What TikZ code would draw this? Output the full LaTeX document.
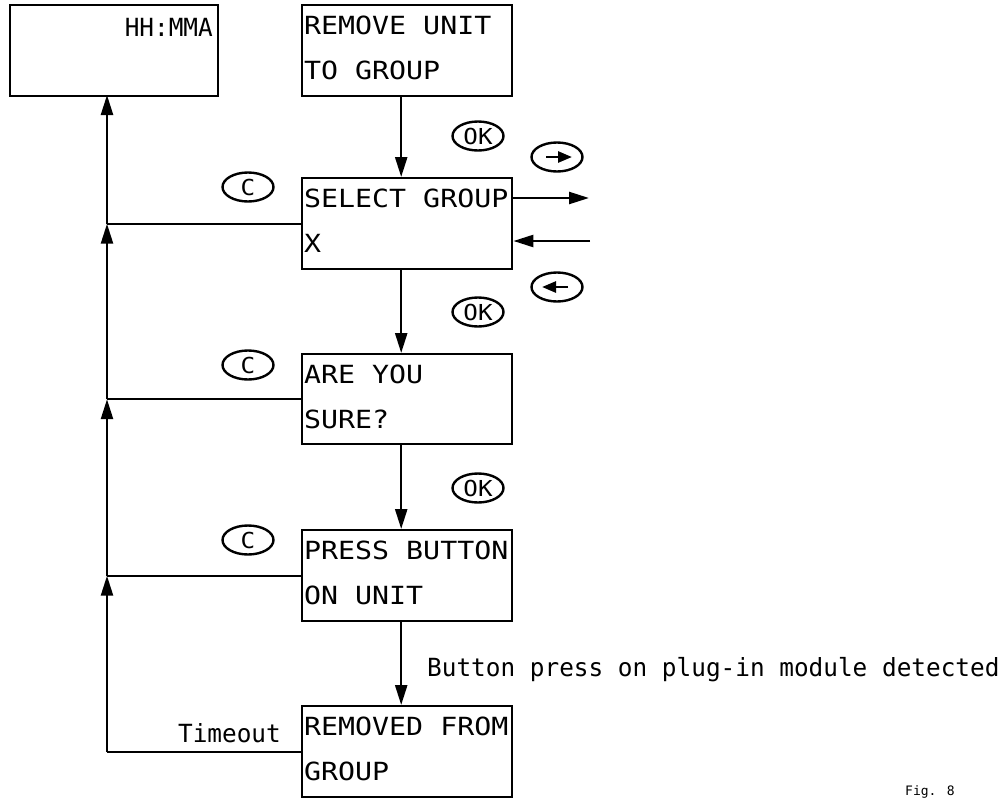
\documentclass[tikz,border=0pt]{standalone}
\usepackage{fontspec}
\newfontfamily\boxfont[FakeStretch=1.13]{DejaVu Sans Mono}
\newfontfamily\lblfont[FakeStretch=0.975]{DejaVu Sans Mono}
\newfontfamily\btnfont[FakeStretch=1.1]{DejaVu Sans Mono}
\newfontfamily\figfont{DejaVu Sans Mono}
\usetikzlibrary{arrows.meta,shapes.geometric}
\tikzset{
  x=1pt, y=-1pt,
  box/.style={draw, line width=2.4pt, minimum width=210pt, minimum height=91pt, inner sep=0pt, anchor=north west},
  ln/.style={anchor=base west, inner sep=0pt, font=\boxfont\fontsize{25}{30}\selectfont},
  lbl/.style={inner sep=0pt, font=\lblfont\fontsize{25}{30}\selectfont},
  plain/.style={line width=2.4pt},
  conn/.style={line width=2.4pt, -{Triangle[length=20pt,width=12pt]}},
  btn/.style={draw, ellipse, line width=2.4pt, minimum width=51pt, minimum height=29pt, inner sep=0pt, font=\btnfont\fontsize{22}{26}\selectfont},
  icon/.style={line width=2.6pt, -{Triangle[length=14pt,width=11pt]}}
}
\begin{document}
\begin{tikzpicture}
\useasboundingbox (0,0) rectangle (1007,798);
% home display
\node[box, minimum width=208pt] (hh) at (9,4) {};
\node[lbl, anchor=base east] (hht) at (213,36) {HH:MMA};
% boxes
\node[box] (b1) at (301,4) {};
\node[ln] (b1a) at (304,34) {REMOVE UNIT};
\node[ln] (b1b) at (304,79) {TO GROUP};
\node[box] (b2) at (301,177) {};
\node[ln] (b2a) at (304,207) {SELECT GROUP};
\node[ln] (b2b) at (304,252) {X};
\node[box, minimum height=90pt] (b3) at (301,353) {};
\node[ln] (b3a) at (304,383) {ARE YOU};
\node[ln] (b3b) at (304,428) {SURE?};
\node[box] (b4) at (301,529) {};
\node[ln] (b4a) at (304,559) {PRESS BUTTON};
\node[ln] (b4b) at (304,604) {ON UNIT};
\node[box] (b5) at (301,705) {};
\node[ln] (b5a) at (304,735) {REMOVED FROM};
\node[ln] (b5b) at (304,780) {GROUP};
% downward flow
\draw[conn] ([xshift=-6pt]b1.south) -- ([xshift=-6pt]b2.north);
\draw[conn] ([xshift=-6pt]b2.south) -- ([xshift=-6pt]b3.north);
\draw[conn] ([xshift=-6pt]b3.south) -- ([xshift=-6pt]b4.north);
\draw[conn] ([xshift=-6pt]b4.south) -- ([xshift=-6pt]b5.north);
% return line on the left
\coordinate (j5) at (107,752);
\coordinate (jt) at (107,95);
\draw[plain] (b5.west |- j5) -- (j5);
\draw[plain] (b4.west) -- (b4.west -| j5);
\draw[plain] (b3.west) -- (b3.west -| j5);
\draw[plain] (b2.west) -- (b2.west -| j5);
\draw[conn] (j5) -- (b4.west -| j5);
\draw[conn] (b4.west -| j5) -- (b3.west -| j5);
\draw[conn] (b3.west -| j5) -- (b2.west -| j5);
\draw[conn] (b2.west -| j5) -- (jt);
% side arrows
\coordinate (r1) at (589,198);
\coordinate (r2) at (590,241);
\draw[conn] (b2.east |- r1) -- (r1);
\draw[conn] (r2) -- (b2.east |- r2);
% buttons
\node[btn] (ok1) at (478,136) {OK};
\node[btn] (ok2) at (478,312) {OK};
\node[btn] (ok3) at (478,488) {OK};
\node[btn] (c1) at (248,187) {C};
\node[btn] (c2) at (248,365) {C};
\node[btn] (c3) at (248,540) {C};
\node[btn] (rb) at (557,157) {};
\draw[icon] ([xshift=-11pt]rb.center) -- ([xshift=15pt]rb.center);
\node[btn] (lb) at (557,287) {};
\draw[icon] ([xshift=11pt]lb.center) -- ([xshift=-15pt]lb.center);
% labels
\node[lbl, anchor=base west] (bp) at (427,676) {Button press on plug-in module detected};
\node[lbl, anchor=base east] (tmo) at (281,742) {Timeout};
\node[inner sep=0pt, anchor=base west, font=\figfont\fontsize{13}{15}\selectfont] (fig) at (905,795) {Fig. 8};
\end{tikzpicture}
\end{document}
